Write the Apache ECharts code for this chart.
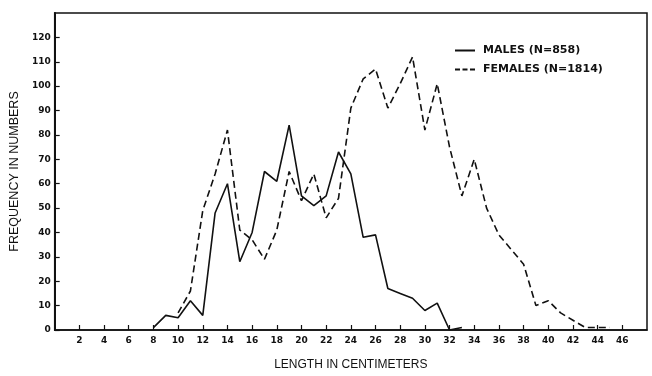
<!DOCTYPE html>
<html>
<head>
<meta charset="utf-8">
<script src="https://cdn.jsdelivr.net/npm/echarts@6/dist/echarts.min.js"></script>
<style>
  html, body { margin: 0; padding: 0; background: #fff; }
  #chart { width: 652px; height: 376px; }
</style>
</head>
<body>
<div id="chart"></div>
<script>
// Length-frequency counts by sex, one value per centimetre class
const maleLengths = [8, 9, 10, 11, 12, 13, 14, 15, 16, 17, 18, 19, 20, 21, 22, 23, 24, 25, 26, 27, 28, 29, 30, 31, 32, 33];
const maleCounts  = [1, 6, 5, 12, 6, 48, 60, 28, 40, 65, 61, 84, 55, 51, 55, 73, 64, 38, 39, 17, 15, 13, 8, 11, 0, 1];

const femaleLengths = [10, 11, 12, 13, 14, 15, 16, 17, 18, 19, 20, 21, 22, 23, 24, 25, 26, 27, 28, 29, 30, 31, 32, 33, 34, 35, 36, 37, 38, 39, 40, 41, 42, 43, 44, 45];
const femaleCounts  = [7, 16, 49, 64, 82, 41, 37, 29, 41, 65, 53, 64, 46, 54, 91, 103, 107, 91, 101, 112, 82, 101, 75, 55, 70, 50, 39, 33, 27, 10, 12, 7, 4, 1, 1, 1];

const seriesNames = ['MALES (N=858)', 'FEMALES (N=1814)'];
const xTitle = 'LENGTH IN CENTIMETERS';
const yTitle = 'FREQUENCY IN NUMBERS';

const pair = (xs, ys) => xs.map((x, i) => [x, ys[i]]);
const ink = '#111';

// Legend keys: a solid bar and a three-dash bar
const solidKey = 'path://M0,0H20V2H0Z';
const dashKey = 'path://M0,0H5V2H0Z M7.5,0H12.5V2H7.5Z M15,0H20V2H15Z';

const chart = echarts.init(document.getElementById('chart'), null, { renderer: 'canvas' });
chart.setOption({
  backgroundColor: '#fff',
  animation: false,
  grid: {
    left: 47, right: 5, top: 13, bottom: 38,
    show: true, borderColor: ink, borderWidth: 1.5, backgroundColor: 'transparent'
  },
  legend: {
    orient: 'vertical',
    left: 450, top: 40,
    itemWidth: 20, itemHeight: 2, itemGap: 8,
    textStyle: { color: ink, fontFamily: 'DejaVu Sans', fontWeight: 'bold', fontSize: 11, padding: [0, 0, 0, 3] },
    data: [
      { name: seriesNames[0], icon: solidKey },
      { name: seriesNames[1], icon: dashKey }
    ]
  },
  xAxis: {
    type: 'value', min: 0, max: 48, interval: 2,
    name: xTitle, nameLocation: 'middle', nameGap: 29,
    nameTextStyle: { color: ink, fontFamily: 'Liberation Sans', fontSize: 12 },
    axisLine: { show: true, lineStyle: { color: ink, width: 1.5 } },
    axisTick: { show: true, inside: true, length: 5, lineStyle: { color: ink, width: 1.2 } },
    axisLabel: {
      color: ink, fontFamily: 'DejaVu Sans', fontWeight: 'bold', fontSize: 9, margin: 6,
      showMinLabel: false, showMaxLabel: false
    },
    splitLine: { show: false }
  },
  yAxis: {
    type: 'value', min: 0, max: 130, interval: 10,
    name: yTitle, nameLocation: 'middle', nameGap: 31, nameRotate: 90,
    nameTextStyle: { color: ink, fontFamily: 'Liberation Sans', fontSize: 12.5 },
    axisLine: { show: true, lineStyle: { color: ink, width: 2 } },
    axisTick: { show: true, inside: true, length: 5, lineStyle: { color: ink, width: 1.2 } },
    axisLabel: {
      color: ink, fontFamily: 'DejaVu Sans', fontWeight: 'bold', fontSize: 9, margin: 4,
      showMaxLabel: false
    },
    splitLine: { show: false }
  },
  series: [
    {
      name: seriesNames[0], type: 'line', data: pair(maleLengths, maleCounts),
      symbol: 'none', lineStyle: { color: ink, width: 1.6, type: 'solid' },
      itemStyle: { color: ink }
    },
    {
      name: seriesNames[1], type: 'line', data: pair(femaleLengths, femaleCounts),
      symbol: 'none', lineStyle: { color: ink, width: 1.6, type: [7, 4] },
      itemStyle: { color: ink }
    }
  ]
});
</script>
</body>
</html>
